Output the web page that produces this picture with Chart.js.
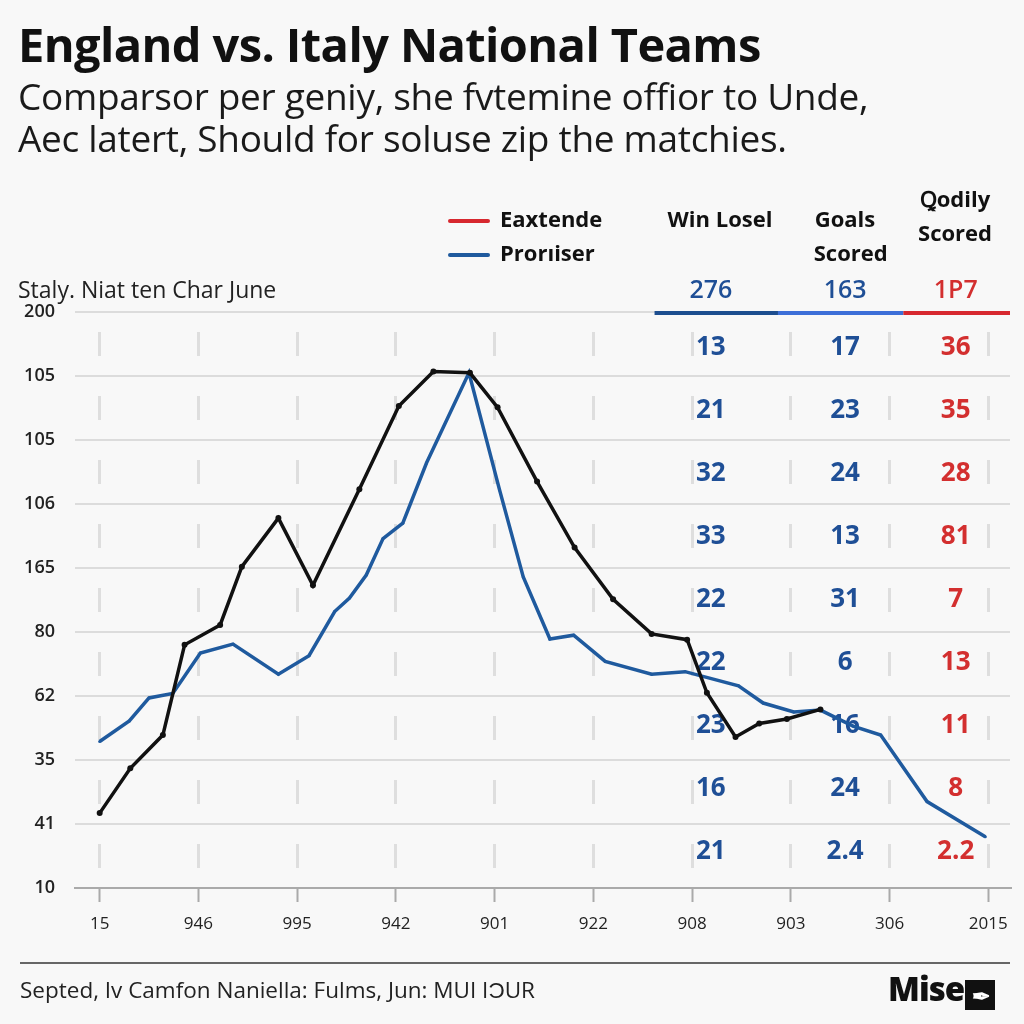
<!DOCTYPE html>
<html>
<head>
<meta charset="utf-8">
<script src="https://cdn.jsdelivr.net/npm/chart.js@4.4.1/dist/chart.umd.min.js"></script>
<style>
  body { margin: 0; background: #f8f8f8; font-family: "Open Sans", sans-serif; color: #111; }
  #wrap { position: relative; width: 1024px; height: 1024px; overflow: hidden; }
  #chart { position: absolute; left: 0; top: 0; }
  .t { position: absolute; white-space: nowrap; }
  #title { left: 18px; top: 12px; font-size: 47px; font-weight: 700; letter-spacing: -0.6px; }
  #sub { left: 18px; top: 75px; font-size: 37px; line-height: 42px; color: #1a1a1a; letter-spacing: -0.3px; }
  .leg { font-size: 22px; font-weight: 700; }
  .leg i { display: inline-block; width: 42px; height: 4px; vertical-align: middle; margin-right: 10px; border-radius: 2px; }
  .hd { font-size: 22px; font-weight: 700; text-align: center; line-height: 34px; }
  #unit { left: 18px; top: 273px; font-size: 23px; color: #222; }
  #foot { position: absolute; left: 20px; top: 962px; width: 990px; height: 0; border-top: 2px solid #666; }
  #src { left: 20px; top: 974px; font-size: 22.5px; color: #222; }
  #logo { left: 888px; top: 966px; font-size: 33px; font-weight: 800; letter-spacing: -1px; }
  #logo b { display: inline-block; width: 30px; height: 30px; background: #111; color: #fff; font-size: 22px; text-align: center; line-height: 30px; vertical-align: -3px; margin-left: 1px; }
</style>
</head>
<body>
<div id="wrap">
  <canvas id="chart" width="1024" height="1024"></canvas>
  <div class="t" id="title">England vs. Italy National Teams</div>
  <div class="t" id="sub">Comparsor per geniy, she fvtemine offior to Unde,<br>Aec latert, Should for soluse zip the matchies.</div>
  <div class="t leg" style="left:448px; top:203px;"><i style="background:#d7282f"></i>Eaxtende</div>
  <div class="t leg" style="left:448px; top:237px;"><i style="background:#1f5a9e"></i>Prorıiser</div>
  <div class="t hd" style="left:660px; top:201px; width:120px;">Win Losel</div>
  <div class="t hd" style="left:790px; top:201px; width:110px;">Goals<br>&nbsp;&nbsp;Scored</div>
  <div class="t hd" style="left:900px; top:181px; width:110px;">Ꝗodily<br>Scored</div>
  <div class="t" id="unit">Staly. Niat ten Char June</div>
  <div id="foot"></div>
  <div class="t" id="src">Septed, Iv Camfon Naniella: Fulms, Jun: MUI IƆUR</div>
  <div class="t" id="logo">Mise<b>✒</b></div>
</div>
<script>
// axis labels (garbled in the original, kept as-is)
const xLabels = ['15', '946', '995', '942', '901', '922', '908', '903', '306', '2015'];
const yLabels = ['10', '41', '35', '62', '80', '165', '106', '105', '105', '200'];

// black line
const englandX = [0, 0.31, 0.64, 0.86, 1.22, 1.44, 1.81, 2.16, 2.63, 3.03, 3.38, 3.75, 4.03, 4.43, 4.81, 5.20, 5.59, 5.95, 6.15, 6.44, 6.68, 6.96, 7.30];
const englandY = [1.17, 1.87, 2.39, 3.80, 4.11, 5.02, 5.78, 4.73, 6.23, 7.53, 8.07, 8.05, 7.51, 6.35, 5.32, 4.51, 3.97, 3.88, 3.05, 2.36, 2.57, 2.64, 2.79];

// blue line
const italyX = [0, 0.30, 0.50, 0.74, 1.02, 1.35, 1.81, 2.12, 2.38, 2.53, 2.70, 2.87, 3.07, 3.31, 3.74, 4.05, 4.29, 4.56, 4.80, 5.12, 5.59, 5.93, 6.47, 6.72, 7.03, 7.30, 7.63, 7.91, 8.38, 8.97];
const italyY = [2.29, 2.61, 2.97, 3.04, 3.67, 3.81, 3.34, 3.63, 4.32, 4.53, 4.89, 5.46, 5.70, 6.64, 8.05, 6.22, 4.86, 3.89, 3.95, 3.54, 3.34, 3.38, 3.16, 2.89, 2.75, 2.78, 2.53, 2.39, 1.35, 0.80];

// table on the right
const tableHead = ['276', '163', '1P7'];
const winLose = ['13', '21', '32', '33', '22', '22', '23', '16', '21'];
const goalsScored = ['17', '23', '24', '13', '31', '6', '16', '24', '2.4'];
const bodilyScored = ['36', '35', '28', '81', '7', '13', '11', '8', '2.2'];

const tablePlugin = {
    id: 'tablePlugin',
    beforeDatasetsDraw(chart) {
        const ctx = chart.ctx;
        const xs = chart.scales.x, ys = chart.scales.y;
        const colX = [6.19, 7.55, 8.67];
        const colColor = ['#1f4f96', '#1f4f96', '#d32f2f'];
        const cols = [winLose, goalsScored, bodilyScored];
        ctx.save();
        // coloured underline of header row
        const top = chart.chartArea.top;
        const segs = [[5.62, 6.87, '#1d4e8f'], [6.87, 8.14, '#3d6fd8'], [8.14, 9.22, '#d7282f']];
        ctx.lineWidth = 4;
        segs.forEach(s => {
            ctx.strokeStyle = s[2];
            ctx.beginPath();
            ctx.moveTo(xs.getPixelForValue(s[0]), top + 1);
            ctx.lineTo(xs.getPixelForValue(s[1]), top + 1);
            ctx.stroke();
        });
        ctx.textAlign = 'center';
        ctx.textBaseline = 'middle';
        ctx.font = '600 25px "Open Sans"';
        tableHead.forEach((v, c) => {
            ctx.fillStyle = colColor[c];
            ctx.fillText(v, xs.getPixelForValue(colX[c]), ys.getPixelForValue(9.33));
        });
        ctx.font = '700 26px "Open Sans"';
        cols.forEach((col, c) => {
            ctx.fillStyle = colColor[c];
            col.forEach((v, r) => {
                ctx.fillText(v, xs.getPixelForValue(colX[c]), ys.getPixelForValue(8.45 - r * 0.985));
            });
        });
        ctx.restore();
    }
};

const toPts = (xa, ya) => xa.map((x, i) => ({ x: x, y: ya[i] }));

new Chart(document.getElementById('chart'), {
    type: 'line',
    data: {
        datasets: [{
            label: 'England',
            data: toPts(englandX, englandY),
            borderColor: '#111',
            backgroundColor: '#111',
            borderWidth: 3.5,
            pointRadius: 3,
            pointBorderWidth: 0,
            tension: 0
        }, {
            label: 'Italy',
            data: toPts(italyX, italyY),
            borderColor: '#1f5a9e',
            backgroundColor: '#1f5a9e',
            borderWidth: 3.5,
            pointRadius: 1.5,
            pointBorderWidth: 0,
            tension: 0
        }]
    },
    options: {
        responsive: false,
        animation: false,
        devicePixelRatio: 1,
        layout: { padding: { top: 312, right: 14, left: 0, bottom: 0 } },
        plugins: { legend: { display: false }, tooltip: { enabled: false } },
        scales: {
            x: {
                type: 'linear',
                min: -0.25,
                max: 9.22,
                afterBuildTicks: s => { s.ticks = xLabels.map((l, i) => ({ value: i })); },
                afterFit: s => { s.height = 136; },
                ticks: {
                    callback: v => xLabels[v],
                    color: '#222',
                    font: { family: 'Open Sans', size: 17 },
                    padding: 12,
                    maxRotation: 0,
                    autoSkip: false
                },
                grid: { color: '#dedede', lineWidth: 3, tickLength: 14, tickColor: '#aaa', tickWidth: 2 },
                border: { display: true, color: '#aaa', width: 2, dash: [24, 40], dashOffset: 44 }
            },
            y: {
                min: 0,
                max: 9,
                ticks: {
                    stepSize: 1,
                    callback: v => yLabels[v],
                    color: '#222',
                    font: { family: 'Open Sans', size: 18, weight: '600' },
                    padding: 20
                },
                afterFit: s => { s.width = 75; },
                grid: { color: '#dcdcdc', lineWidth: 2, drawTicks: false },
                border: { display: false }
            }
        }
    },
    plugins: [tablePlugin]
});
</script>
</body>
</html>
